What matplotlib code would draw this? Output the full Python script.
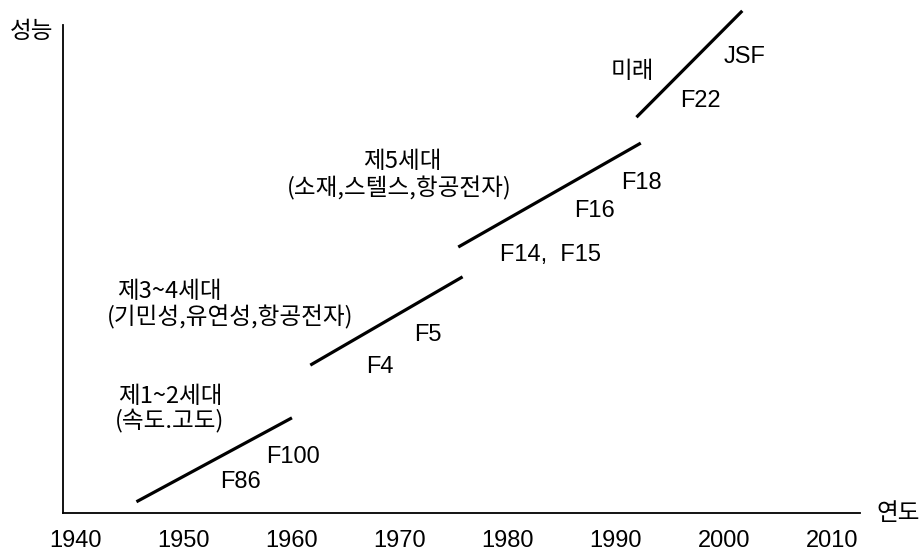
# Fighter generations: performance vs year (schematic)

import matplotlib
matplotlib.use("Agg")
import matplotlib.pyplot as plt
from matplotlib import font_manager

# pick fonts
names = {f.name for f in font_manager.fontManager.ttflist}
latin = 'Liberation Sans Narrow' if 'Liberation Sans Narrow' in names else 'Liberation Sans'
kr = ['Noto Sans CJK KR', 'DejaVu Sans']

# year ticks
years = [1940, 1950, 1960, 1970, 1980, 1990, 2000, 2010]

# generation segments: (start year, end year), (start perf, end perf)
seg_years = [(1945.6, 1960.0), (1961.7, 1975.8), (1975.4, 1992.3), (1991.9, 2001.7)]
seg_perf = [(2.3, 19.5), (30.3, 48.4), (54.5, 75.8), (81.1, 102.9)]

# aircraft labels: name, year, perf
planes = ['F86', 'F100', 'F4', 'F5', 'F14,  F15', 'F16', 'F18', 'F22', 'JSF']
plane_year = [1955.2, 1960.1, 1968.1, 1972.6, 1983.9, 1988.0, 1992.4, 1997.8, 2001.9]
plane_perf = [6.4, 11.5, 29.9, 36.5, 52.9, 61.9, 67.6, 84.4, 93.4]

# generation labels: text, year, perf, alignment
gen_text = ['제1~2세대', '(속도.고도)', '제3~4세대', '(기민성,유연성,항공전자)',
            '제5세대', '(소재,스텔스,항공전자)', '미래']
gen_year = [1943.9, 1943.6, 1943.8, 1942.9, 1970.2, 1969.9, 1991.5]
gen_perf = [23.8, 18.9, 45.3, 40.2, 72.1, 66.6, 90.4]
gen_ha = ['left', 'left', 'left', 'left', 'center', 'center', 'center']

W, H = 920, 553
fig = plt.figure(figsize=(W / 100, H / 100), dpi=100)
ax = fig.add_axes([63 / W, 1 - 513 / H, (860 - 63) / W, (513 - 25) / H])
ax.set_xlim(1938.8, 2012.6)
ax.set_ylim(0, 100)

for (x0, x1), (y0, y1) in zip(seg_years, seg_perf):
    ax.plot([x0, x1], [y0, y1], color='black', lw=2.3, solid_capstyle='butt', clip_on=False)

for name, x, y in zip(planes, plane_year, plane_perf):
    ax.text(x, y, name, ha='center', va='center', fontsize=17, family=latin)

for t, x, y, ha in zip(gen_text, gen_year, gen_perf, gen_ha):
    ax.text(x, y, t, ha=ha, va='center', fontsize=17, family=kr)

ax.spines['top'].set_visible(False)
ax.spines['right'].set_visible(False)
ax.spines['left'].set_linewidth(1.3)
ax.spines['bottom'].set_linewidth(1.3)
ax.set_yticks([])
ax.set_xticks(years)
ax.set_xticklabels([str(y) for y in years], fontsize=17, family=latin)
ax.tick_params(axis='x', length=0, pad=12)

fig.text(32 / W, 1 - 31 / H, '성능', ha='center', va='center', fontsize=17, family=kr)
fig.text(898 / W, 1 - 513 / H, '연도', ha='center', va='center', fontsize=17, family=kr)

fig.savefig('out.png', dpi=100, facecolor='white')
